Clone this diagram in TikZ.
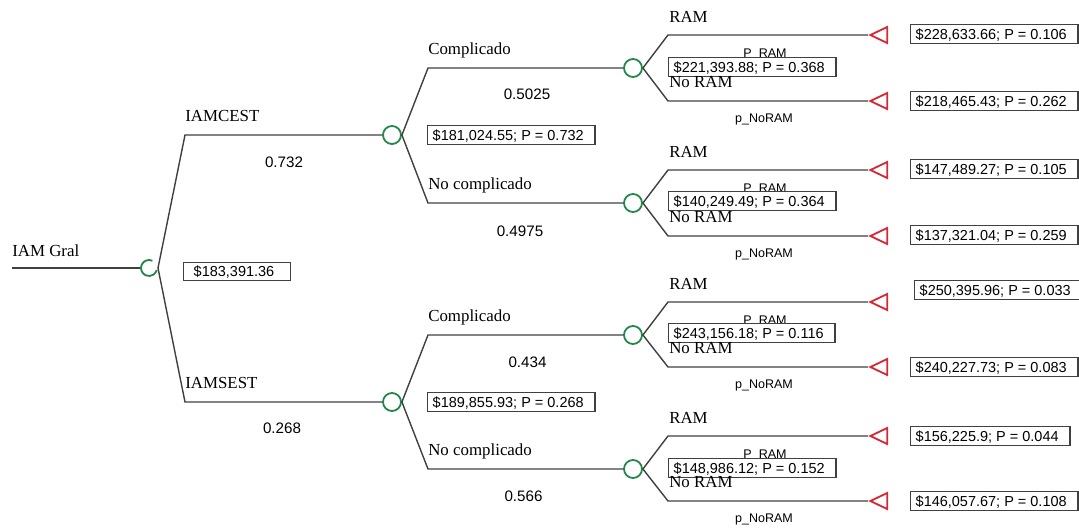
\documentclass[tikz,border=0pt]{standalone}
\usepackage{fontspec}
\setmainfont{Liberation Serif}
\setsansfont{Liberation Sans}
\usetikzlibrary{calc,shapes.geometric}
\definecolor{chgreen}{RGB}{35,135,75}
\definecolor{endred}{RGB}{215,40,55}
\definecolor{linegray}{RGB}{64,64,64}

\begin{document}
\begin{tikzpicture}[x=0.025cm,y=-0.025cm,
  branch/.style={draw=linegray,line width=1pt},
  chance/.style={draw=chgreen,circle,line width=1.3pt,minimum size=0.45cm,inner sep=0pt},
  endnode/.style={draw=endred,isosceles triangle,isosceles triangle stretches,shape border rotate=180,minimum width=0.4cm,minimum height=0.42cm,inner sep=0pt,line width=1.3pt,anchor=apex},
  valbox/.style={draw=linegray,fill=white,line width=0.9pt,anchor=west,font=\sffamily\fontsize{10.3}{12}\selectfont,text height=7.4pt,text depth=0pt,inner ysep=2.9pt,inner xsep=3.6pt,execute at end node={\hspace{4.5pt}}},
  lbl/.style={anchor=base west,inner sep=0pt,font=\fontsize{12}{14}\selectfont},
  prob/.style={anchor=base,inner sep=0pt,font=\sffamily\fontsize{10.8}{13}\selectfont},
  pname/.style={anchor=base,inner sep=0pt,font=\sffamily\fontsize{8.9}{10}\selectfont}]
\useasboundingbox (0,0) rectangle (1079,528);

% root
\coordinate (start) at (12,268);
\coordinate (gral) at (149,268);
\draw[branch] (start) -- ($(gral)-(8,0)$);
\draw[chgreen,line width=1.3pt] ($(gral)+(65:0.2cm)$) arc[start angle=65,end angle=345,radius=0.2cm];
\node[lbl] (lgral) at ($(start)+(0,-12)$) {IAM Gral};

% IAMCEST / IAMSEST
\coordinate (cest) at (185,135);
\coordinate (sest) at (185,402);
\node[chance] (ncest) at (392,135) {};
\node[chance] (nsest) at (392,402) {};
\draw[branch] ($(gral)+(9,0)$) -- (cest) -- (ncest);
\draw[branch] ($(gral)+(9,0)$) -- (sest) -- (nsest);

% complicado / no complicado
\coordinate (ccomp) at (428,68);
\coordinate (cnocomp) at (428,203);
\coordinate (scomp) at (428,335);
\coordinate (snocomp) at (428,469);
\node[chance] (nccomp) at (633,68) {};
\node[chance] (ncnocomp) at (633,203) {};
\node[chance] (nscomp) at (633,335) {};
\node[chance] (nsnocomp) at (633,469) {};
\draw[branch] (ncest.east) -- (ccomp) -- (nccomp);
\draw[branch] (ncest.east) -- (cnocomp) -- (ncnocomp);
\draw[branch] (nsest.east) -- (scomp) -- (nscomp);
\draw[branch] (nsest.east) -- (snocomp) -- (nsnocomp);

% RAM / No RAM
\coordinate (ccram) at (668,35);
\coordinate (ccno) at (668,101);
\coordinate (cnram) at (668,170);
\coordinate (cnno) at (668,236);
\coordinate (scram) at (668,302);
\coordinate (scno) at (668,367);
\coordinate (snram) at (668,436);
\coordinate (snno) at (668,501);
\node[endnode] (tccram) at (868,35) {};
\node[endnode] (tccno) at (868,101) {};
\node[endnode] (tcnram) at (868,170) {};
\node[endnode] (tcnno) at (868,236) {};
\node[endnode] (tscram) at (868,302) {};
\node[endnode] (tscno) at (868,367) {};
\node[endnode] (tsnram) at (868,436) {};
\node[endnode] (tsnno) at (868,501) {};
\draw[branch] (nccomp.east) -- (ccram) -- (tccram.apex);
\draw[branch] (nccomp.east) -- (ccno) -- (tccno.apex);
\draw[branch] (ncnocomp.east) -- (cnram) -- (tcnram.apex);
\draw[branch] (ncnocomp.east) -- (cnno) -- (tcnno.apex);
\draw[branch] (nscomp.east) -- (scram) -- (tscram.apex);
\draw[branch] (nscomp.east) -- (scno) -- (tscno.apex);
\draw[branch] (nsnocomp.east) -- (snram) -- (tsnram.apex);
\draw[branch] (nsnocomp.east) -- (snno) -- (tsnno.apex);

% labels, first two levels
\node[lbl] (lcest) at ($(cest)+(0,-13.5)$) {IAMCEST};
\node[prob] (pcest) at ($(cest)+(99,32)$) {0.732};
\node[lbl] (lsest) at ($(sest)+(0,-13.5)$) {IAMSEST};
\node[prob] (psest) at ($(sest)+(97,31)$) {0.268};
\node[valbox,minimum width=2.675cm] (vgral) at (183,271.5) {\$183,391.36};

\node[lbl] (lccomp) at ($(ccomp)+(0,-13.5)$) {Complicado};
\node[prob] (pccomp) at ($(ccomp)+(99,31)$) {0.5025};
\node[lbl] (lcnocomp) at ($(cnocomp)+(0,-13.5)$) {No complicado};
\node[prob] (pcnocomp) at ($(cnocomp)+(92,33)$) {0.4975};
\node[lbl] (lscomp) at ($(scomp)+(0,-13.5)$) {Complicado};
\node[prob] (pscomp) at ($(scomp)+(99.5,32)$) {0.434};
\node[lbl] (lsnocomp) at ($(snocomp)+(0,-13.5)$) {No complicado};
\node[prob] (psnocomp) at ($(snocomp)+(95.5,32)$) {0.566};
\node[valbox] (vcest) at (427,135) {\$181,024.55; P = 0.732};
\node[valbox] (vsest) at (427,402) {\$189,855.93; P = 0.268};

% labels, last level
\node[lbl] (lccram) at ($(ccram)+(1,-13)$) {RAM};
\node[pname] (pccram) at ($(ccram)+(97,22)$) {P\_RAM};
\node[valbox] (vccomp) at (668,67) {\$221,393.88; P = 0.368};
\node[lbl] (lccno) at ($(ccno)+(1,-14)$) {No RAM};
\node[pname] (pccno) at ($(ccno)+(96,21)$) {p\_NoRAM};

\node[lbl] (lcnram) at ($(cnram)+(1,-13)$) {RAM};
\node[pname] (pcnram) at ($(cnram)+(97,22)$) {P\_RAM};
\node[valbox] (vcnocomp) at (668,201) {\$140,249.49; P = 0.364};
\node[lbl] (lcnno) at ($(cnno)+(1,-14)$) {No RAM};
\node[pname] (pcnno) at ($(cnno)+(96,21)$) {p\_NoRAM};

\node[lbl] (lscram) at ($(scram)+(1,-13)$) {RAM};
\node[pname] (pscram) at ($(scram)+(97,22)$) {P\_RAM};
\node[valbox] (vscomp) at (668,333) {\$243,156.18; P = 0.116};
\node[lbl] (lscno) at ($(scno)+(1,-14)$) {No RAM};
\node[pname] (pscno) at ($(scno)+(96,21)$) {p\_NoRAM};

\node[lbl] (lsnram) at ($(snram)+(1,-13)$) {RAM};
\node[pname] (psnram) at ($(snram)+(97,22)$) {P\_RAM};
\node[valbox] (vsnocomp) at (668,468) {\$148,986.12; P = 0.152};
\node[lbl] (lsnno) at ($(snno)+(1,-14)$) {No RAM};
\node[pname] (psnno) at ($(snno)+(96,21)$) {p\_NoRAM};

% end values
\node[valbox] (vccram) at (910,34) {\$228,633.66; P = 0.106};
\node[valbox] (vccno) at (910,101) {\$218,465.43; P = 0.262};
\node[valbox] (vcnram) at (910,169) {\$147,489.27; P = 0.105};
\node[valbox] (vcnno) at (910,235) {\$137,321.04; P = 0.259};
\node[valbox] (vscram) at (914,290) {\$250,395.96; P = 0.033};
\node[valbox] (vscno) at (910,367) {\$240,227.73; P = 0.083};
\node[valbox] (vsnram) at (910,436) {\$156,225.9; P = 0.044};
\node[valbox] (vsnno) at (910,501) {\$146,057.67; P = 0.108};

\end{tikzpicture}
\end{document}
